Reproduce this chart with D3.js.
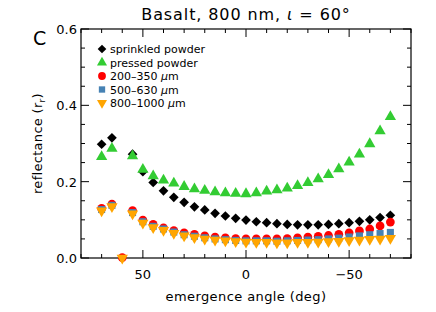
<!DOCTYPE html>
<html>
<head>
<meta charset="utf-8">
<script src="https://cdn.jsdelivr.net/npm/d3@7"></script>
<style>
  body { margin: 0; background: #fff; }
  text { font-family: "DejaVu Sans", sans-serif; fill: #000; }
</style>
</head>
<body>
<svg id="chart" width="436" height="312"></svg>
<script>
// Basalt 800 nm, incidence 60 -- reflectance vs emergence angle

var angles = [70, 65, 60, 55, 50, 45, 40, 35, 30, 25, 20, 15, 10, 5, 0,
  -5, -10, -15, -20, -25, -30, -35, -40, -45, -50, -55, -60, -65, -70];

var sprinkled = [0.298, 0.315, null, 0.272, 0.226, 0.198, 0.176, 0.159, 0.146, 0.134, 0.126, 0.117, 0.110, 0.104, 0.0995,
  0.095, 0.0925, 0.090, 0.088, 0.087, 0.087, 0.087, 0.088, 0.090, 0.0925, 0.096, 0.100, 0.106, 0.112];
var pressed = [0.265, 0.287, null, 0.267, 0.232, 0.215, 0.204, 0.196, 0.187, 0.181, 0.177, 0.173, 0.170, 0.169, 0.168,
  0.170, 0.175, 0.178, 0.183, 0.189, 0.197, 0.207, 0.218, 0.233, 0.251, 0.272, 0.299, 0.333, 0.370];
var fine = [0.130, 0.141, 0.001, 0.124, 0.0995, 0.088, 0.079, 0.072, 0.066, 0.062, 0.058, 0.055, 0.053, 0.051, 0.050,
  0.050, 0.050, 0.050, 0.051, 0.053, 0.055, 0.057, 0.059, 0.062, 0.066, 0.071, 0.076, 0.084, 0.094];
var medium = [0.127, 0.138, null, 0.119, 0.095, 0.083, 0.076, 0.068, 0.061, 0.057, 0.053, 0.050, 0.048, 0.046, 0.045,
  0.045, 0.045, 0.044, 0.045, 0.046, 0.047, 0.048, 0.050, 0.052, 0.055, 0.058, 0.061, 0.064, 0.067];
var coarse = [0.124, 0.135, 0.0, 0.116, 0.092, 0.080, 0.073, 0.065, 0.058, 0.054, 0.050, 0.047, 0.045, 0.043, 0.042,
  0.041, 0.041, 0.040, 0.040, 0.041, 0.041, 0.042, 0.043, 0.044, 0.046, 0.047, 0.049, 0.050, 0.052];

var seriesNames = ["sprinkled powder", "pressed powder", "200\u2013350 ", "500\u2013630 ", "800\u20131000 "];
var xTicks = [50, 0, -50];
var yTicks = [0.0, 0.2, 0.4, 0.6];

var series = [
  {name: seriesNames[0], values: sprinkled, color: "#000000", symbol: d3.symbolDiamond2, size: 60, unit: false},
  {name: seriesNames[1], values: pressed, color: "#33cc33", symbol: d3.symbolTriangle, size: 55, unit: false},
  {name: seriesNames[2], values: fine, color: "#ff0000", symbol: d3.symbolCircle, size: 60, unit: true},
  {name: seriesNames[3], values: medium, color: "#4682b4", symbol: d3.symbolSquare, size: 50, unit: true},
  {name: seriesNames[4], values: coarse, color: "#ffa500", symbol: d3.symbolTriangle, size: 55, unit: true, flip: true}
];

var svg = d3.select("#chart");
// plot box (don't call it "top", window.top is taken)
var pL = 81, pR = 411, pT = 29, pB = 258;

var x = d3.scaleLinear().domain([80, -80]).range([pL, pR]);
var y = d3.scaleLinear().domain([0, 0.6]).range([pB, pT]);

// frame
svg.append("rect")
  .attr("x", pL).attr("y", pT)
  .attr("width", pR - pL).attr("height", pB - pT)
  .attr("fill", "none").attr("stroke", "#000").attr("stroke-width", 1.2);

// inward ticks on all four sides
var xMinor = d3.range(-80, 81, 10);
var yMinor = d3.range(0, 0.601, 0.05);
var tickG = svg.append("g").attr("stroke", "#000").attr("stroke-width", 1);
xMinor.forEach(function (v) {
  var len = (v % 50 === 0) ? 8 : 4;
  tickG.append("line").attr("x1", x(v)).attr("x2", x(v)).attr("y1", pB).attr("y2", pB - len);
  tickG.append("line").attr("x1", x(v)).attr("x2", x(v)).attr("y1", pT).attr("y2", pT + len);
});
yMinor.forEach(function (v) {
  var major = Math.abs(v / 0.2 - Math.round(v / 0.2)) < 1e-6;
  var len = major ? 8 : 4;
  tickG.append("line").attr("x1", pL).attr("x2", pL + len).attr("y1", y(v)).attr("y2", y(v));
  tickG.append("line").attr("x1", pR).attr("x2", pR - len).attr("y1", y(v)).attr("y2", y(v));
});

// tick labels
svg.selectAll(".xlab").data(xTicks).enter().append("text")
  .attr("x", function (d) { return x(d); })
  .attr("y", pB + 21)
  .attr("text-anchor", "middle")
  .attr("font-size", 13)
  .text(function (d) { return d < 0 ? "\u2212" + Math.abs(d) : d; });

svg.selectAll(".ylab").data(yTicks).enter().append("text")
  .attr("x", pL - 4)
  .attr("y", function (d) { return y(d) + 5; })
  .attr("text-anchor", "end")
  .attr("font-size", 13)
  .text(function (d) { return d.toFixed(1); });

// axis titles
svg.append("text")
  .attr("x", (pL + pR) / 2).attr("y", 301)
  .attr("text-anchor", "middle").attr("font-size", 13)
  .attr("letter-spacing", 0.4)
  .text("emergence angle (deg)");

var yl = svg.append("text")
  .attr("transform", "translate(42," + ((pT + pB) / 2) + ") rotate(-90)")
  .attr("text-anchor", "middle").attr("font-size", 13)
  .attr("letter-spacing", 0.3);
yl.append("tspan").text("reflectance (r");
yl.append("tspan").attr("font-size", 9).attr("dy", 3).text("r");
yl.append("tspan").attr("dy", -3).text(")");

// title
var tt = svg.append("text")
  .attr("x", 246).attr("y", 20)
  .attr("text-anchor", "middle").attr("font-size", 16)
  .attr("letter-spacing", 0.9);
tt.append("tspan").text("Basalt, 800 nm, ");
tt.append("tspan").attr("font-style", "italic").text("\u03b9");
tt.append("tspan").text(" = 60\u00b0");

svg.append("text").attr("x", 33).attr("y", 45).attr("font-size", 19).text("C");

// data points
var plot = svg.append("g");
series.forEach(function (s) {
  var pts = angles.map(function (a, i) { return {a: a, v: s.values[i]}; })
    .filter(function (d) { return d.v !== null; });
  var sym = d3.symbol().type(s.symbol).size(s.size);
  plot.selectAll(null).data(pts).enter().append("path")
    .attr("d", sym)
    .attr("fill", s.color)
    .attr("transform", function (d) {
      return "translate(" + x(d.a) + "," + y(d.v) + ")" + (s.flip ? " rotate(180)" : "");
    });
});

// legend
var lg = svg.append("g");
series.forEach(function (s, i) {
  var ly = 49 + i * 13.5;
  lg.append("path")
    .attr("d", d3.symbol().type(s.symbol).size(s.size * 0.8))
    .attr("fill", s.color)
    .attr("transform", "translate(102," + ly + ")" + (s.flip ? " rotate(180)" : ""));
  var t = lg.append("text").attr("x", 110).attr("y", ly + 4).attr("font-size", 11);
  t.append("tspan").text(s.name);
  if (s.unit) {
    t.append("tspan").attr("font-style", "italic").text("\u03bc");
    t.append("tspan").text("m");
  }
});
</script>
</body>
</html>
